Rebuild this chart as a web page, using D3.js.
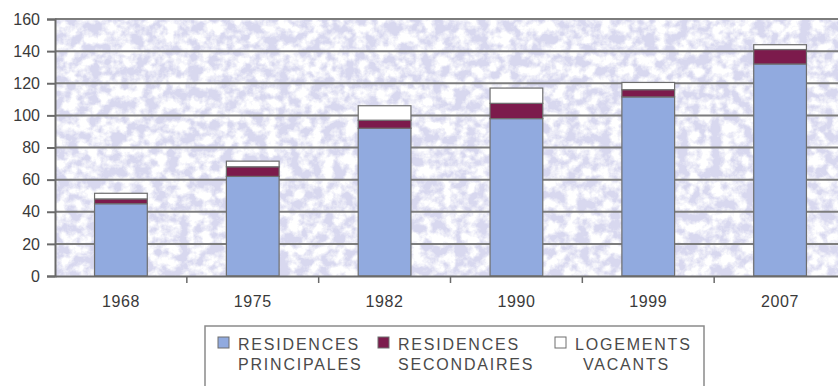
<!DOCTYPE html>
<html>
<head>
<meta charset="utf-8">
<script src="https://cdn.jsdelivr.net/npm/d3@7"></script>
<style>
  html, body { margin: 0; padding: 0; background: #fff; }
  svg { display: block; }
  text { font-family: Arial, "Liberation Sans", sans-serif; }
</style>
</head>
<body>
<svg id="chart" width="838" height="386"></svg>
<script>
// Housing stock by census year (hundreds of dwellings)
const years = ["1968", "1975", "1982", "1990", "1999", "2007"];
const principales = [45, 62, 92, 98, 111.5, 132];
const secondaires = [3, 6, 5, 9.5, 4.5, 9];
const vacants = [3.5, 3.5, 9, 9.5, 4.5, 3];
const yTicks = [0, 20, 40, 60, 80, 100, 120, 140, 160];

const seriesKeys = ["principales", "secondaires", "vacants"];
const seriesLabels = [
  ["RESIDENCES", "PRINCIPALES"],
  ["RESIDENCES", "SECONDAIRES"],
  ["LOGEMENTS", "VACANTS"]
];
const seriesColors = ["#91aadf", "#7c1b4c", "#ffffff"];

const rows = years.map((yr, i) => ({
  year: yr,
  principales: principales[i],
  secondaires: secondaires[i],
  vacants: vacants[i]
}));

const svg = d3.select("#chart");
const plot = { left: 55, top: 19, right: 846, bottom: 276 };

const x = d3.scaleBand()
  .domain(years)
  .range([plot.left, plot.right])
  .paddingInner(0.6)
  .paddingOuter(0.3);

const y = d3.scaleLinear()
  .domain([0, 160])
  .range([plot.bottom, plot.top]);

// mottled lavender paper fill for the plot area
const defs = svg.append("defs");
const grain = defs.append("filter").attr("id", "grain")
  .attr("x", 0).attr("y", 0).attr("width", 1).attr("height", 1);
grain.append("feTurbulence")
  .attr("type", "fractalNoise")
  .attr("baseFrequency", 0.09)
  .attr("numOctaves", 4)
  .attr("seed", 11)
  .attr("result", "noise");
grain.append("feColorMatrix")
  .attr("in", "noise")
  .attr("type", "matrix")
  .attr("values", "0 0 0 0 1  0 0 0 0 1  0 0 0 0 1  3.4 0 0 0 -1.25");

const bgW = plot.right - plot.left;
const bgH = plot.bottom - plot.top;
svg.append("rect")
  .attr("x", plot.left).attr("y", plot.top)
  .attr("width", bgW).attr("height", bgH)
  .attr("fill", "#d8d8ef");
svg.append("rect")
  .attr("x", plot.left).attr("y", plot.top)
  .attr("width", bgW).attr("height", bgH)
  .attr("fill", "#fbfbff")
  .attr("filter", "url(#grain)");

// horizontal gridlines
svg.append("g")
  .selectAll("line")
  .data(yTicks.filter(d => d > 0))
  .join("line")
  .attr("x1", plot.left).attr("x2", plot.right)
  .attr("y1", d => y(d)).attr("y2", d => y(d))
  .attr("stroke", "#7d7d7d")
  .attr("stroke-width", 2);

// stacked bars
const stack = d3.stack().keys(seriesKeys);
const layers = stack(rows);

svg.append("g")
  .selectAll("g")
  .data(layers)
  .join("g")
  .attr("fill", (d, i) => seriesColors[i])
  .selectAll("rect")
  .data(d => d)
  .join("rect")
  .attr("x", d => x(d.data.year))
  .attr("width", x.bandwidth())
  .attr("y", d => y(d[1]))
  .attr("height", d => y(d[0]) - y(d[1]))
  .attr("stroke", "#6e6e6e")
  .attr("stroke-width", 1.2);

// y axis
const yAxis = svg.append("g")
  .attr("transform", `translate(${plot.left},0)`)
  .call(d3.axisLeft(y).tickValues(yTicks).tickSize(8).tickPadding(7));
yAxis.select(".domain").attr("stroke", "#6a6a6a").attr("stroke-width", 2);
yAxis.selectAll(".tick line").attr("stroke", "#6a6a6a").attr("stroke-width", 2);
yAxis.selectAll(".tick text")
  .attr("font-size", 16)
  .attr("fill", "#3a3a3a");

// x axis: labels centred on bars, ticks on category boundaries
const xAxis = svg.append("g")
  .attr("transform", `translate(0,${plot.bottom})`)
  .call(d3.axisBottom(x).tickSize(0).tickPadding(20));
xAxis.select(".domain").attr("stroke", "#6a6a6a").attr("stroke-width", 2);
xAxis.selectAll(".tick text")
  .attr("font-size", 16)
  .attr("letter-spacing", 0.6)
  .attr("fill", "#3a3a3a");

const step = x.step();
const boundaries = d3.range(1, years.length + 1).map(i => plot.left + i * step);
xAxis.append("g")
  .selectAll("line")
  .data(boundaries)
  .join("line")
  .attr("x1", d => d).attr("x2", d => d)
  .attr("y1", 0).attr("y2", 7)
  .attr("stroke", "#6a6a6a")
  .attr("stroke-width", 1.5);

// legend
const legend = svg.append("g");
legend.append("rect")
  .attr("x", 205).attr("y", 326)
  .attr("width", 499).attr("height", 80)
  .attr("fill", "#fff")
  .attr("stroke", "#8a8a8a")
  .attr("stroke-width", 1.5);

const legendX = [218, 378, 555];
const items = legend.selectAll("g.item")
  .data(seriesKeys)
  .join("g")
  .attr("class", "item")
  .attr("transform", (d, i) => `translate(${legendX[i]},337)`);

items.append("rect")
  .attr("width", 11).attr("height", 11)
  .attr("fill", (d, i) => seriesColors[i])
  .attr("stroke", "#6e6e6e")
  .attr("stroke-width", 1);

items.each(function(d, i) {
  const t = d3.select(this).append("text")
    .attr("font-size", 16)
    .attr("fill", "#4a4a4a")
    .attr("letter-spacing", 1.8);
  seriesLabels[i].forEach((line, j) => {
    t.append("tspan")
      .attr("x", i === 2 && j === 1 ? 28 : 20)
      .attr("y", 13 + j * 20)
      .text(line);
  });
});
</script>
</body>
</html>
